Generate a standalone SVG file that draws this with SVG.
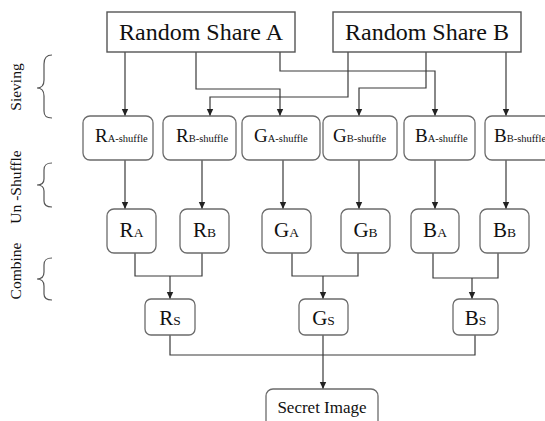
<svg xmlns="http://www.w3.org/2000/svg" width="545" height="421" viewBox="0 0 545 421">
  <defs>
    <marker id="arrow" markerUnits="userSpaceOnUse" markerWidth="8" markerHeight="8" refX="7" refY="4" orient="auto">
      <path d="M0,0.8 L7,4 L0,7.2 Z" fill="#222"/>
    </marker>
    <style>
      .share { fill: #fff; stroke: #555; stroke-width: 1.4; }
      .box { fill: #fff; stroke: #6b6b6b; stroke-width: 1.3; }
      .t { font-family: "Liberation Serif", "Times New Roman", serif; fill: #111; }
      .big { font-size: 24px; }
      .cap { font-size: 19px; }
      .sub { font-size: 10.5px; }
      .lcap { font-size: 21px; }
      .lsub { font-size: 13.5px; }
      .stage { font-size: 15.5px; }
      .wire { fill: none; stroke: #3a3a3a; stroke-width: 1.2; }
      .arr { marker-end: url(#arrow); }
      .brace { fill: none; stroke: #555; stroke-width: 1.2; }
    </style>
  </defs>
  <rect width="545" height="421" fill="#fff"/>

  <!-- stage labels with braces -->
  <g id="stage-sieving">
    <text class="t stage" transform="translate(21,87) rotate(-90)" text-anchor="middle">Sieving</text>
    <path class="brace" d="M52,55 C46,55 44,58 44,64 V80 C44,85 42,88 37,88 C42,88 44,91 44,96 V111 C44,116 46,118 52,118"/>
  </g>
  <g id="stage-unshuffle">
    <text class="t stage" transform="translate(21,187) rotate(-90)" text-anchor="middle">Un -Shuffle</text>
    <path class="brace" d="M52,163 C46,163 44,165 44,170 V179 C44,183 42,185 37,185 C42,185 44,187 44,191 V201 C44,205 46,207 52,207"/>
  </g>
  <g id="stage-combine">
    <text class="t stage" transform="translate(21,271) rotate(-90)" text-anchor="middle">Combine</text>
    <path class="brace" d="M52,258 C46,258 44,260 44,265 V272 C44,276 42,279 37,279 C42,279 44,282 44,286 V294 C44,298 46,300 52,300"/>
  </g>

  <!-- connectors -->
  <g id="connectors">
    <path class="wire arr" d="M125,52 V116"/>
    <path class="wire arr" d="M196,52 V89 H280 V116"/>
    <path class="wire arr" d="M280,52 V71 H435 V116"/>
    <path class="wire arr" d="M348,52 V97 H210 V116"/>
    <path class="wire arr" d="M426,52 V88 H359 V116"/>
    <path class="wire arr" d="M506,52 V116"/>

    <path class="wire arr" d="M125,160 V209"/>
    <path class="wire arr" d="M202,160 V209"/>
    <path class="wire arr" d="M283,160 V209"/>
    <path class="wire arr" d="M359,160 V209"/>
    <path class="wire arr" d="M435,160 V209"/>
    <path class="wire arr" d="M506,160 V209"/>

    <path class="wire" d="M135,253 V276 H202 V253"/>
    <path class="wire arr" d="M170,276 V299"/>
    <path class="wire" d="M292,253 V276 H358 V253"/>
    <path class="wire arr" d="M323,276 V299"/>
    <path class="wire" d="M433,253 V278 H498 V253"/>
    <path class="wire arr" d="M472,278 V299"/>

    <path class="wire" d="M170,335 V355 H475 V335"/>
    <path class="wire arr" d="M323,335 V389"/>
  </g>

  <!-- random shares -->
  <g id="share-a">
    <rect class="share" x="107" y="12" width="188" height="40"/>
    <text class="t big" x="201" y="40" text-anchor="middle">Random Share A</text>
  </g>
  <g id="share-b">
    <rect class="share" x="333" y="12" width="188" height="40"/>
    <text class="t big" x="427" y="40" text-anchor="middle">Random Share B</text>
  </g>

  <!-- sieved, shuffled planes -->
  <g id="r-a-shuffle">
    <rect class="box" x="83" y="116" width="70" height="44" rx="7"/>
    <text class="t" x="95" y="142"><tspan class="cap">R</tspan><tspan class="sub">A-shuffle</tspan></text>
  </g>
  <g id="r-b-shuffle">
    <rect class="box" x="163" y="116" width="73" height="44" rx="7"/>
    <text class="t" x="176" y="142"><tspan class="cap">R</tspan><tspan class="sub">B-shuffle</tspan></text>
  </g>
  <g id="g-a-shuffle">
    <rect class="box" x="242" y="116" width="78" height="44" rx="7"/>
    <text class="t" x="254" y="142"><tspan class="cap">G</tspan><tspan class="sub">A-shuffle</tspan></text>
  </g>
  <g id="g-b-shuffle">
    <rect class="box" x="323" y="116" width="74" height="44" rx="7"/>
    <text class="t" x="333" y="142"><tspan class="cap">G</tspan><tspan class="sub">B-shuffle</tspan></text>
  </g>
  <g id="b-a-shuffle">
    <rect class="box" x="404" y="116" width="71" height="44" rx="7"/>
    <text class="t" x="415" y="142"><tspan class="cap">B</tspan><tspan class="sub">A-shuffle</tspan></text>
  </g>
  <g id="b-b-shuffle">
    <rect class="box" x="485" y="116" width="70" height="44" rx="7"/>
    <text class="t" x="494" y="142"><tspan class="cap">B</tspan><tspan class="sub">B-shuffle</tspan></text>
  </g>

  <!-- un-shuffled planes -->
  <g id="r-a">
    <rect class="box" x="107" y="209" width="49" height="44" rx="7"/>
    <text class="t" x="131.5" y="237" text-anchor="middle"><tspan class="lcap">R</tspan><tspan class="lsub">A</tspan></text>
  </g>
  <g id="r-b">
    <rect class="box" x="180" y="209" width="49" height="44" rx="7"/>
    <text class="t" x="204.5" y="237" text-anchor="middle"><tspan class="lcap">R</tspan><tspan class="lsub">B</tspan></text>
  </g>
  <g id="g-a">
    <rect class="box" x="262" y="209" width="49" height="44" rx="7"/>
    <text class="t" x="286.5" y="237" text-anchor="middle"><tspan class="lcap">G</tspan><tspan class="lsub">A</tspan></text>
  </g>
  <g id="g-b">
    <rect class="box" x="341" y="209" width="49" height="44" rx="7"/>
    <text class="t" x="365.5" y="237" text-anchor="middle"><tspan class="lcap">G</tspan><tspan class="lsub">B</tspan></text>
  </g>
  <g id="b-a">
    <rect class="box" x="411" y="209" width="48" height="44" rx="7"/>
    <text class="t" x="435" y="237" text-anchor="middle"><tspan class="lcap">B</tspan><tspan class="lsub">A</tspan></text>
  </g>
  <g id="b-b">
    <rect class="box" x="480" y="209" width="49" height="44" rx="7"/>
    <text class="t" x="504.5" y="237" text-anchor="middle"><tspan class="lcap">B</tspan><tspan class="lsub">B</tspan></text>
  </g>

  <!-- combined planes -->
  <g id="r-s">
    <rect class="box" x="145" y="299" width="50" height="36" rx="6"/>
    <text class="t" x="170" y="325" text-anchor="middle"><tspan class="lcap">R</tspan><tspan class="lsub">S</tspan></text>
  </g>
  <g id="g-s">
    <rect class="box" x="299" y="299" width="49" height="36" rx="6"/>
    <text class="t" x="323.5" y="325" text-anchor="middle"><tspan class="lcap">G</tspan><tspan class="lsub">S</tspan></text>
  </g>
  <g id="b-s">
    <rect class="box" x="453" y="299" width="45" height="36" rx="6"/>
    <text class="t" x="475.5" y="325" text-anchor="middle"><tspan class="lcap">B</tspan><tspan class="lsub">S</tspan></text>
  </g>

  <!-- output -->
  <g id="secret-image">
    <rect class="box" x="266" y="389" width="112" height="45" rx="7"/>
    <text class="t" x="322" y="413" text-anchor="middle" font-size="17">Secret Image</text>
  </g>
</svg>
